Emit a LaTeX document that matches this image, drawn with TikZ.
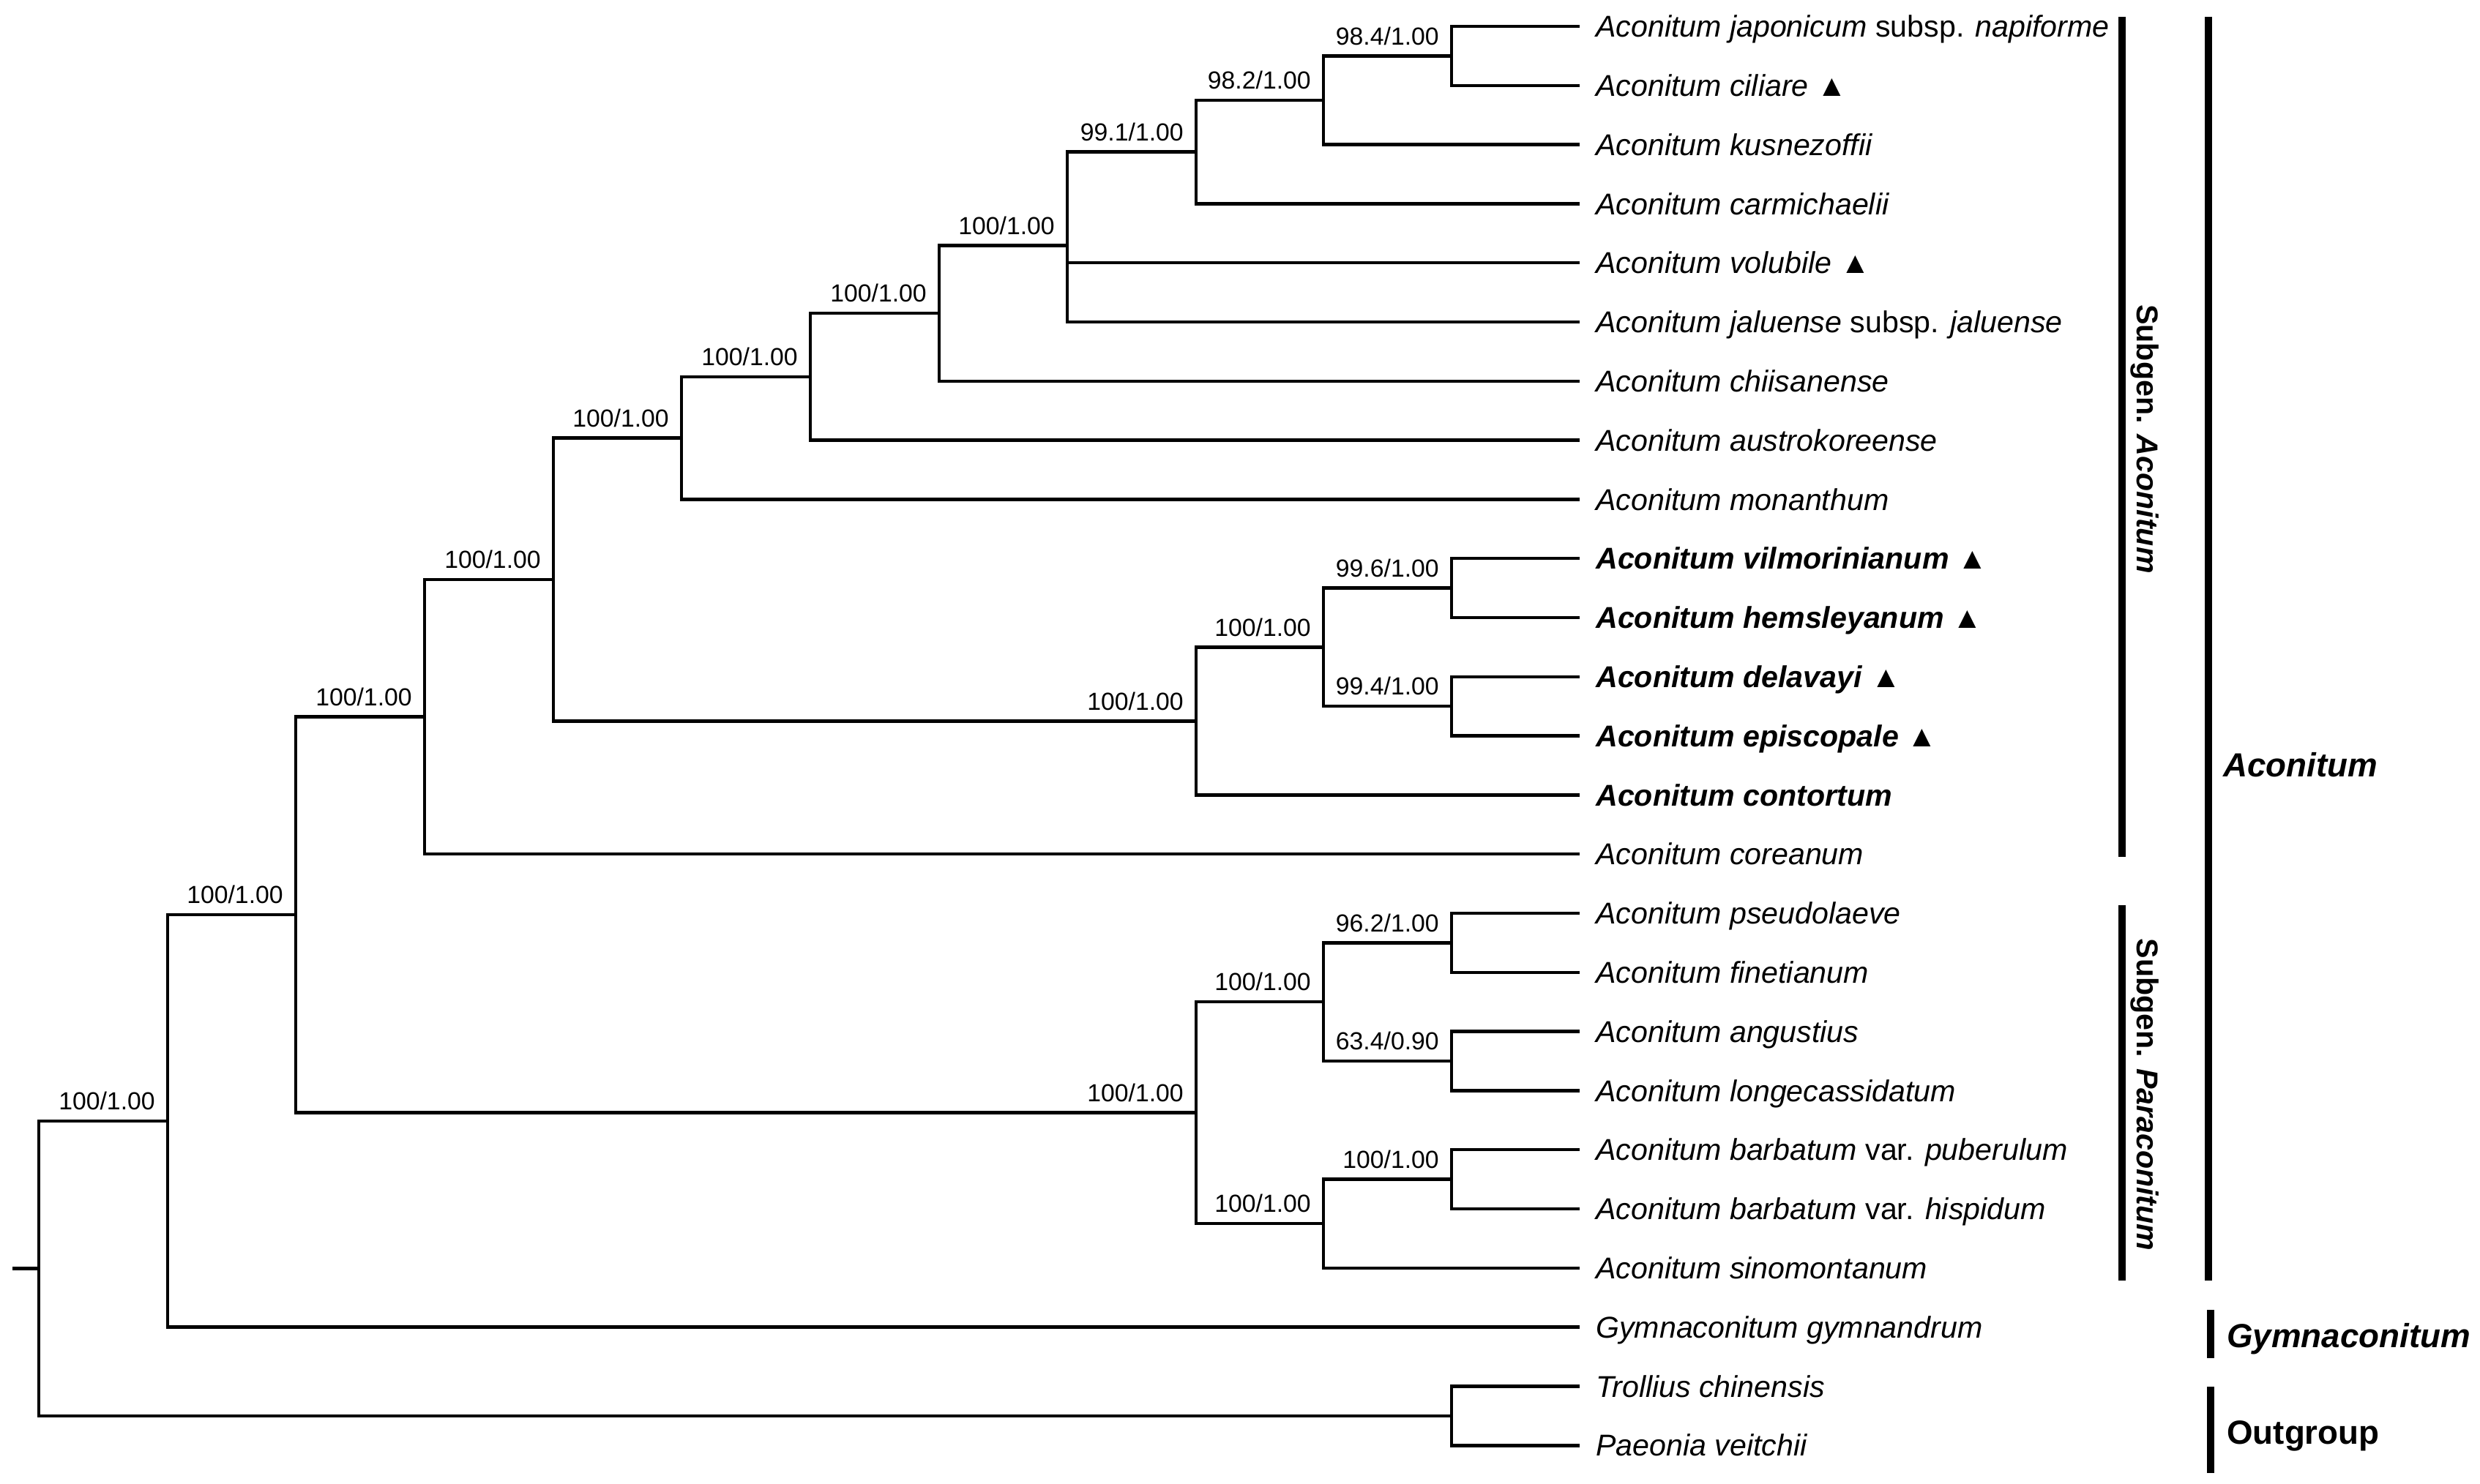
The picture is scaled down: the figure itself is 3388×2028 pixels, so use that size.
\documentclass[tikz,border=0pt]{standalone}
\usepackage{fontspec}
\setmainfont{Liberation Sans}

\begin{document}
\begin{tikzpicture}[x=0.01cm, y=-0.01cm, line width=1.3pt,
  taxon/.style={anchor=west, inner xsep=0.2cm, inner ysep=0pt, text height=8.4pt, text depth=0pt, font=\fontsize{11.7}{14}\selectfont},
  supp/.style={anchor=south east, inner xsep=0.15cm, inner ysep=0.13cm, text height=6.9pt, text depth=0pt, font=\fontsize{9.6}{11}\selectfont},
  bar/.style={line width=2.8pt},
  subgen/.style={rotate=-90, inner sep=0pt, text height=8.4pt, text depth=0pt, font=\fontsize{11.7}{14}\selectfont\bfseries},
  group/.style={anchor=west, inner sep=0pt, text height=9.3pt, text depth=0pt, font=\fontsize{13}{15}\selectfont\bfseries}]
\useasboundingbox (0,0) rectangle (3388,2028);

% taxa
\node (napi) at (2158,36) [taxon] {\textit{Aconitum japonicum} subsp. \textit{napiforme}};
\node (cili) at (2158,116.8) [taxon] {\textit{Aconitum ciliare} ▲};
\node (kusn) at (2158,197.6) [taxon] {\textit{Aconitum kusnezoffii}};
\node (carm) at (2158,278.4) [taxon] {\textit{Aconitum carmichaelii}};
\node (volu) at (2158,359.2) [taxon] {\textit{Aconitum volubile} ▲};
\node (jalu) at (2158,440) [taxon] {\textit{Aconitum jaluense} subsp. \textit{jaluense}};
\node (chii) at (2158,520.8) [taxon] {\textit{Aconitum chiisanense}};
\node (aust) at (2158,601.6) [taxon] {\textit{Aconitum austrokoreense}};
\node (mona) at (2158,682.4) [taxon] {\textit{Aconitum monanthum}};
\node (vilm) at (2158,763.2) [taxon] {\textbf{\textit{Aconitum vilmorinianum}} ▲};
\node (hems) at (2158,844) [taxon] {\textbf{\textit{Aconitum hemsleyanum}} ▲};
\node (dela) at (2158,924.8) [taxon] {\textbf{\textit{Aconitum delavayi}} ▲};
\node (epis) at (2158,1005.6) [taxon] {\textbf{\textit{Aconitum episcopale}} ▲};
\node (cont) at (2158,1086.4) [taxon] {\textbf{\textit{Aconitum contortum}}};
\node (core) at (2158,1167.2) [taxon] {\textit{Aconitum coreanum}};
\node (pseu) at (2158,1248) [taxon] {\textit{Aconitum pseudolaeve}};
\node (fine) at (2158,1328.8) [taxon] {\textit{Aconitum finetianum}};
\node (angu) at (2158,1409.6) [taxon] {\textit{Aconitum angustius}};
\node (long) at (2158,1490.4) [taxon] {\textit{Aconitum longecassidatum}};
\node (pube) at (2158,1571.2) [taxon] {\textit{Aconitum barbatum} var. \textit{puberulum}};
\node (hisp) at (2158,1652) [taxon] {\textit{Aconitum barbatum} var. \textit{hispidum}};
\node (sino) at (2158,1732.8) [taxon] {\textit{Aconitum sinomontanum}};
\node (gymn) at (2158,1813.6) [taxon] {\textit{Gymnaconitum gymnandrum}};
\node (trol) at (2158,1894.4) [taxon] {\textit{Trollius chinensis}};
\node (paeo) at (2158,1975.2) [taxon] {\textit{Paeonia veitchii}};

% internal nodes
\coordinate (stem) at (17,1733.4);
\coordinate (root) at (53,1733.4);
\coordinate (acgy) at (229,1531.9);
\coordinate (acon) at (404,1250.2);
\coordinate (subA) at (580,979.6);
\coordinate (cA1) at (756,792);
\coordinate (cA2) at (931,598.7);
\coordinate (cA3) at (1107,514.9);
\coordinate (cA4) at (1283,428.2);
\coordinate (cA5) at (1458,335.6);
\coordinate (cA6) at (1634,207.7);
\coordinate (cA7) at (1808,137);
\coordinate (cA8) at (1983,76.4);
\coordinate (bold) at (1634,985.4);
\coordinate (bold1) at (1808,884.4);
\coordinate (vh) at (1983,803.6);
\coordinate (de) at (1983,965.2);
\coordinate (para) at (1634,1520.7);
\coordinate (pa1) at (1808,1369.2);
\coordinate (pf) at (1983,1288.4);
\coordinate (al) at (1983,1450);
\coordinate (pa2) at (1808,1672.2);
\coordinate (ph) at (1983,1611.6);
\coordinate (outg) at (1983,1934.8);

% branches
\draw (stem) -- (root);
\draw (root) |- (acgy) node[supp] {100/1.00};
\draw (root) |- (outg);
\draw (outg) |- (trol.west);
\draw (outg) |- (paeo.west);
\draw (acgy) |- (acon) node[supp] {100/1.00};
\draw (acgy) |- (gymn.west);
\draw (acon) |- (subA) node[supp] {100/1.00};
\draw (acon) |- (para) node[supp] {100/1.00};
\draw (subA) |- (cA1) node[supp] {100/1.00};
\draw (subA) |- (core.west);
\draw (cA1) |- (cA2) node[supp] {100/1.00};
\draw (cA1) |- (bold) node[supp] {100/1.00};
\draw (cA2) |- (cA3) node[supp] {100/1.00};
\draw (cA2) |- (mona.west);
\draw (cA3) |- (cA4) node[supp] {100/1.00};
\draw (cA3) |- (aust.west);
\draw (cA4) |- (cA5) node[supp] {100/1.00};
\draw (cA4) |- (chii.west);
\draw (cA5) |- (cA6) node[supp] {99.1/1.00};
\draw (cA5) |- (volu.west);
\draw (cA5) |- (jalu.west);
\draw (cA6) |- (cA7) node[supp] {98.2/1.00};
\draw (cA6) |- (carm.west);
\draw (cA7) |- (cA8) node[supp] {98.4/1.00};
\draw (cA7) |- (kusn.west);
\draw (cA8) |- (napi.west);
\draw (cA8) |- (cili.west);
\draw (bold) |- (bold1) node[supp] {100/1.00};
\draw (bold) |- (cont.west);
\draw (bold1) |- (vh) node[supp] {99.6/1.00};
\draw (bold1) |- (de) node[supp] {99.4/1.00};
\draw (vh) |- (vilm.west);
\draw (vh) |- (hems.west);
\draw (de) |- (dela.west);
\draw (de) |- (epis.west);
\draw (para) |- (pa1) node[supp] {100/1.00};
\draw (para) |- (pa2) node[supp] {100/1.00};
\draw (pa1) |- (pf) node[supp] {96.2/1.00};
\draw (pa1) |- (al) node[supp] {63.4/0.90};
\draw (pf) |- (pseu.west);
\draw (pf) |- (fine.west);
\draw (al) |- (angu.west);
\draw (al) |- (long.west);
\draw (pa2) |- (ph) node[supp] {100/1.00};
\draw (pa2) |- (sino.west);
\draw (ph) |- (pube.west);
\draw (ph) |- (hisp.west);

% clade bars
\draw[bar] (2899,23) -- (2899,1171);
\draw[bar] (2899,1237) -- (2899,1750);
\draw[bar] (3017,23) -- (3017,1750);
\draw[bar] (3020,1790) -- (3020,1856);
\draw[bar] (3020,1895) -- (3020,2013);
\node (sgAco) at (2934,600) [subgen] {Subgen. \textit{Aconitum}};
\node (sgPar) at (2934,1496) [subgen] {Subgen. \textit{Paraconitum}};
\node (gAco) at (3035,1045) [group] {\textit{Aconitum}};
\node (gGym) at (3040,1825) [group] {\textit{Gymnaconitum}};
\node (gOut) at (3040,1957) [group] {Outgroup};
\end{tikzpicture}
\end{document}
